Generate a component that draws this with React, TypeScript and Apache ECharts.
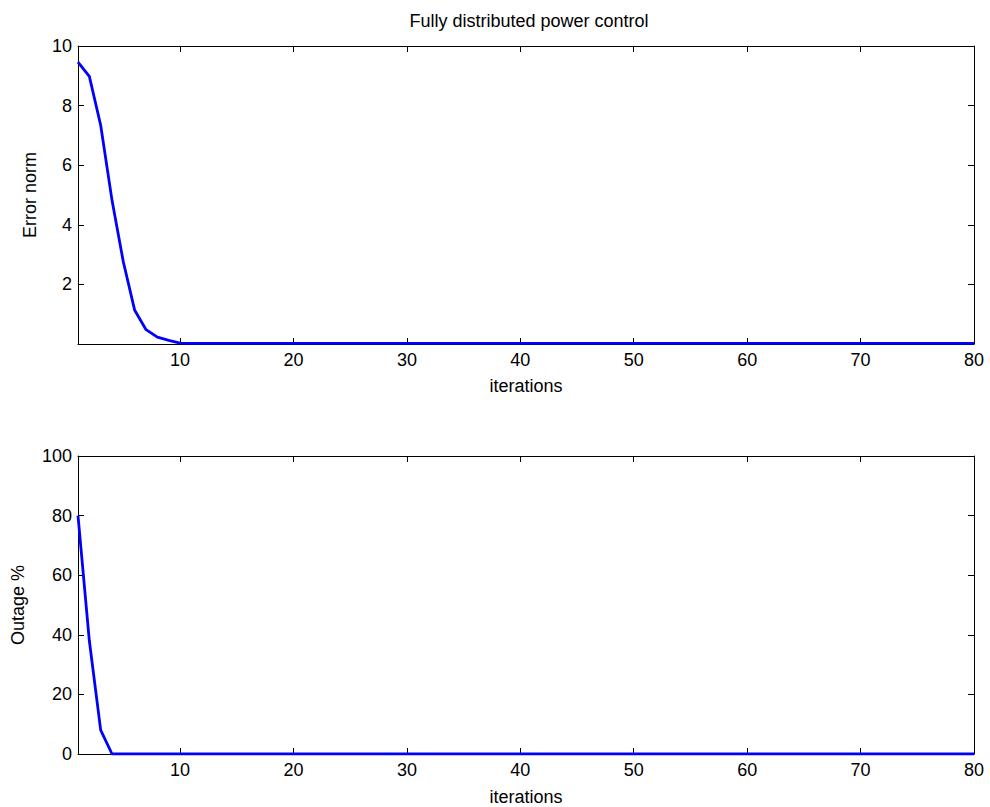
import React, { useEffect, useRef } from "react";
import * as echarts from "echarts";

const titleText = "Fully distributed power control";
const xName = "iterations";
const topYName = "Error norm";
const bottomYName = "Outage %";

const xTicks = [10, 20, 30, 40, 50, 60, 70, 80];
const topYTicks = [2, 4, 6, 8, 10];
const bottomYTicks = [0, 20, 40, 60, 80, 100];

// iterations 1..80
const errorNorm = [
  9.46, 8.98, 7.34, 4.82, 2.75, 1.13, 0.48, 0.23, 0.12, 0.03,
  0.02, 0.02, 0.02, 0.02, 0.02, 0.02, 0.02, 0.02, 0.02, 0.02,
  0.02, 0.02, 0.02, 0.02, 0.02, 0.02, 0.02, 0.02, 0.02, 0.02,
  0.02, 0.02, 0.02, 0.02, 0.02, 0.02, 0.02, 0.02, 0.02, 0.02,
  0.02, 0.02, 0.02, 0.02, 0.02, 0.02, 0.02, 0.02, 0.02, 0.02,
  0.02, 0.02, 0.02, 0.02, 0.02, 0.02, 0.02, 0.02, 0.02, 0.02,
  0.02, 0.02, 0.02, 0.02, 0.02, 0.02, 0.02, 0.02, 0.02, 0.02,
  0.02, 0.02, 0.02, 0.02, 0.02, 0.02, 0.02, 0.02, 0.02, 0.02,
];

const outage = [
  80, 38, 8, 0, 0, 0, 0, 0, 0, 0,
  0, 0, 0, 0, 0, 0, 0, 0, 0, 0,
  0, 0, 0, 0, 0, 0, 0, 0, 0, 0,
  0, 0, 0, 0, 0, 0, 0, 0, 0, 0,
  0, 0, 0, 0, 0, 0, 0, 0, 0, 0,
  0, 0, 0, 0, 0, 0, 0, 0, 0, 0,
  0, 0, 0, 0, 0, 0, 0, 0, 0, 0,
  0, 0, 0, 0, 0, 0, 0, 0, 0, 0,
];

const FONT = "Liberation Sans";
const FS = 18;
const lineCol = "#000";

function xAxisPair(gridIndex: number, gap: number) {
  const base = {
    type: "value" as const,
    gridIndex,
    min: 1,
    max: 80,
    splitLine: { show: false },
    axisLine: { show: true, onZero: false, lineStyle: { color: lineCol, width: 1 } },
    axisTick: { show: true, inside: true, length: 6, customValues: xTicks, lineStyle: { color: lineCol } },
  };
  return [
    {
      ...base,
      position: "bottom",
      name: xName,
      nameLocation: "middle",
      nameGap: gap,
      nameTextStyle: { fontFamily: FONT, fontSize: FS, color: "#000" },
      axisLabel: { show: true, customValues: xTicks, margin: 7, fontFamily: FONT, fontSize: FS, color: "#000" },
    },
    {
      ...base,
      position: "top",
      axisLabel: { show: false },
    },
  ];
}

function yAxisPair(gridIndex: number, max: number, ticks: number[], name: string, gap: number) {
  const base = {
    type: "value" as const,
    gridIndex,
    min: 0,
    max,
    splitLine: { show: false },
    axisLine: { show: true, onZero: false, lineStyle: { color: lineCol, width: 1 } },
    axisTick: { show: true, inside: true, length: 6, customValues: ticks, lineStyle: { color: lineCol } },
  };
  return [
    {
      ...base,
      position: "left",
      name,
      nameLocation: "middle",
      nameGap: gap,
      nameTextStyle: { fontFamily: FONT, fontSize: FS, color: "#000" },
      axisLabel: { show: true, customValues: ticks, margin: 6, fontFamily: FONT, fontSize: FS, color: "#000" },
    },
    {
      ...base,
      position: "right",
      axisLabel: { show: false },
    },
  ];
}

export default function App() {
  const ref = useRef<HTMLDivElement>(null);
  useEffect(() => {
    if (!ref.current) return;
    const chart = echarts.init(ref.current, null, { renderer: "svg" });
    chart.setOption({
      animation: false,
      backgroundColor: "#fff",
      title: {
        text: titleText,
        left: 524,
        textAlign: "center",
        top: 7,
        textStyle: { fontFamily: FONT, fontSize: FS, fontWeight: "normal", color: "#000" },
      },
      grid: [
        { left: 78, top: 46, width: 896, height: 298 },
        { left: 78, top: 456, width: 896, height: 298 },
      ],
      xAxis: [...xAxisPair(0, 33), ...xAxisPair(1, 34)],
      yAxis: [
        ...yAxisPair(0, 10, topYTicks, topYName, 39),
        ...yAxisPair(1, 100, bottomYTicks, bottomYName, 51),
      ],
      series: [
        {
          type: "line",
          xAxisIndex: 0,
          yAxisIndex: 0,
          data: errorNorm.map((v, i) => [i + 1, v]),
          showSymbol: false,
          lineStyle: { color: "#0000ff", width: 2.8 },
        },
        {
          type: "line",
          xAxisIndex: 2,
          yAxisIndex: 2,
          data: outage.map((v, i) => [i + 1, v]),
          showSymbol: false,
          lineStyle: { color: "#0000ff", width: 2.8 },
        },
      ],
    });
    return () => chart.dispose();
  }, []);
  return (
    <div
      ref={ref}
      style={{ position: "fixed", left: 0, top: 0, width: 990, height: 807, background: "#fff" }}
    />
  );
}
